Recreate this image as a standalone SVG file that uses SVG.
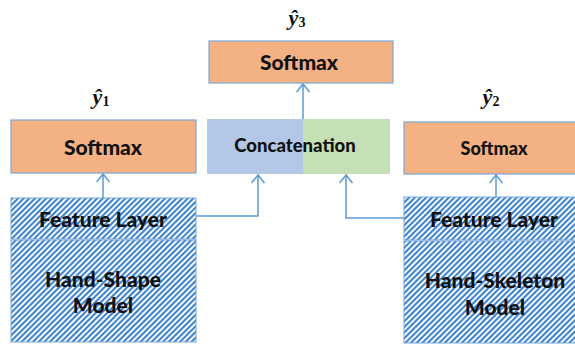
<svg xmlns="http://www.w3.org/2000/svg" width="575" height="349" viewBox="0 0 575 349">
<style>
.sm{fill:#f4b183;stroke:#7ba7d9;stroke-width:1.2}
.hat{fill:url(#hatch);stroke:#7ba7d9;stroke-width:1}
.t{font-family:Lato,"Open Sans",sans-serif;font-weight:900;fill:#111;text-anchor:middle}
.y{font-family:"Liberation Serif",serif;font-style:italic;font-weight:bold;fill:#111;font-size:22px;text-anchor:middle}
.c{fill:none;stroke:#5b9bd5;stroke-width:1.5}
</style>
<defs>
<pattern id="hatch" width="4" height="4" patternUnits="userSpaceOnUse" patternTransform="rotate(45)">
<rect width="4" height="4" fill="#fff"/>
<rect width="2.1" height="4" fill="#3f83cf"/>
</pattern>
<marker id="arr" markerWidth="16" markerHeight="16" refX="9" refY="7" orient="auto" markerUnits="userSpaceOnUse" viewBox="0 0 16 16">
<path d="M1,0.5 L9,7 L1,13.5" fill="none" stroke="#5b9bd5" stroke-width="1.5"/>
</marker>
</defs>

<g id="label-y1"><text class="y" x="101" y="104">ŷ<tspan font-size="14" font-style="normal" dy="2">1</tspan></text></g>
<g id="label-y3"><text class="y" x="297" y="25">ŷ<tspan font-size="14" font-style="normal" dy="2">3</tspan></text></g>
<g id="label-y2"><text class="y" x="491" y="104">ŷ<tspan font-size="14" font-style="normal" dy="2">2</tspan></text></g>

<g id="softmax-left"><rect class="sm" x="11" y="120" width="185" height="53"/><text class="t" x="103" y="155" font-size="21">Softmax</text></g>
<g id="softmax-top"><rect class="sm" x="209" y="41" width="184" height="42"/><text class="t" x="299" y="70" font-size="21">Softmax</text></g>
<g id="softmax-right"><rect class="sm" x="404" y="122" width="185" height="52"/><text class="t" x="494" y="155" font-size="18">Softmax</text></g>

<g id="concatenation">
<rect x="207" y="119" width="96" height="55" fill="#b4c7e7"/>
<rect x="303" y="119" width="87" height="55" fill="#c5e0b4"/>
<text class="t" x="295" y="152" font-size="18.5">Concatenation</text>
</g>

<g id="feature-left"><rect class="hat" x="11" y="198" width="185" height="41"/><text class="t" x="103" y="227" font-size="21">Feature Layer</text></g>
<g id="model-left"><rect class="hat" x="11" y="240" width="185" height="102"/><text class="t" x="103" y="287" font-size="21">Hand-Shape</text><text class="t" x="103" y="313" font-size="21">Model</text></g>
<g id="feature-right"><rect class="hat" x="404" y="197" width="185" height="43"/><text class="t" x="494" y="227" font-size="21">Feature Layer</text></g>
<g id="model-right"><rect class="hat" x="404" y="241" width="185" height="102"/><text class="t" x="495" y="288" font-size="21">Hand-Skeleton</text><text class="t" x="495" y="315" font-size="21">Model</text></g>

<g id="connectors">
<path class="c" d="M103,198 V174" marker-end="url(#arr)"/>
<path class="c" d="M303,119 V84" marker-end="url(#arr)"/>
<path class="c" d="M496,197 V175" marker-end="url(#arr)"/>
<path class="c" d="M196,216 H258 V175" marker-end="url(#arr)"/>
<path class="c" d="M404,218 H346 V175" marker-end="url(#arr)"/>
</g>
</svg>
